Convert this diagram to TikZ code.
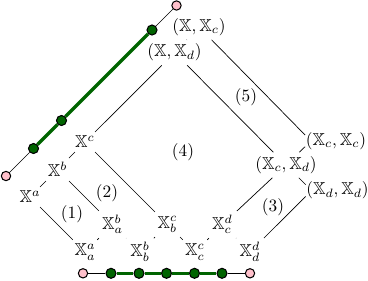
\documentclass[tikz,border=0pt]{standalone}
\usepackage{amssymb}
\definecolor{dgreen}{RGB}{0,100,0}
\definecolor{pinkc}{RGB}{255,192,203}
\begin{document}
\begin{tikzpicture}[x=0.578pt,y=-0.578pt,
  lab/.style={inner sep=2.2pt},
  rlab/.style={inner ysep=2pt,inner xsep=3.2pt},
  num/.style={inner sep=1pt},
  edge/.style={line width=0.4pt},
  gdot/.style={circle,draw=black,fill=dgreen,line width=0.6pt,minimum size=5.8pt,inner sep=0pt},
  pdot/.style={circle,draw=black,fill=pinkc,line width=0.6pt,minimum size=5.4pt,inner sep=0pt},
  gline/.style={draw=dgreen,line width=2pt}]
\useasboundingbox (0,0) rectangle (368,280);
% lattice nodes
\node[lab] (xaa) at (85,252) {$\mathbb{X}_a^a$};
\node[lab] (xbb) at (140,252) {$\mathbb{X}_b^b$};
\node[lab] (xcc) at (195,252) {$\mathbb{X}_c^c$};
\node[lab] (xdd) at (250,252) {$\mathbb{X}_d^d$};
\node[lab] (xab) at (112.5,224.5) {$\mathbb{X}_a^b$};
\node[lab] (xbc) at (167.5,224.5) {$\mathbb{X}_b^c$};
\node[lab] (xcd) at (222.5,224.5) {$\mathbb{X}_c^d$};
\node[lab] (xa) at (30,197) {$\mathbb{X}^a$};
\node[lab] (xb) at (57.5,169.5) {$\mathbb{X}^b$};
\node[lab] (xc) at (85,142) {$\mathbb{X}^c$};
\node[lab] (pxd) at (174.5,52.5) {$(\mathbb{X},\mathbb{X}_d)$};
\node[lab] (pxc) at (199,27) {$(\mathbb{X},\mathbb{X}_c)$};
\node[lab] (pcd) at (286,165) {$(\mathbb{X}_c,\mathbb{X}_d)$};
\node[rlab] (pcc) at (311,141) {\makebox[0pt][l]{\kern-3pt$(\mathbb{X}_c,\mathbb{X}_c)$}};
\node[rlab] (pdd) at (311.5,190.5) {\makebox[0pt][l]{\kern-3pt$(\mathbb{X}_d,\mathbb{X}_d)$}};
% region labels
\node[num] (n1) at (72,214) {(1)};
\node[num] (n2) at (107,193) {(2)};
\node[num] (n3) at (273,207) {(3)};
\node[num] (n4) at (183,152) {(4)};
\node[num] (n5) at (246,97) {(5)};
% edges
\draw[edge] (xa) -- (xb);
\draw[edge] (xb) -- (xc);
\draw[edge] (xc) -- (pxd);
\draw[edge] (pxd) -- (pxc);
\draw[edge] (pxc) -- (pcc);
\draw[edge] (pxd) -- (pcd);
\draw[edge] (pcd) -- (pcc);
\draw[edge] (pcd) -- (pdd);
\draw[edge] (pcd) -- (xcd);
\draw[edge] (pdd) -- (xdd);
\draw[edge] (xcd) -- (xdd);
\draw[edge] (xcd) -- (xcc);
\draw[edge] (xc) -- (xbc);
\draw[edge] (xbc) -- (xcc);
\draw[edge] (xbc) -- (xbb);
\draw[edge] (xb) -- (xab);
\draw[edge] (xab) -- (xbb);
\draw[edge] (xab) -- (xaa);
\draw[edge] (xa) -- (xaa);
% top-left diagonal
\node[pdot] (tp1) at (6,176) {};
\node[gdot] (tg1) at (33.5,148.5) {};
\node[gdot] (tg2) at (61.5,120.5) {};
\node[gdot] (tg3) at (152,30) {};
\node[pdot] (tp2) at (176.5,5.5) {};
\draw[edge] (tp1) -- (tg1);
\draw[gline] (tg1) -- (tg2);
\draw[gline] (tg2) -- (tg3);
\draw[edge] (tg3) -- (tp2);
% bottom row
\node[pdot] (bp1) at (83,273.3) {};
\node[gdot] (bg1) at (111,273.3) {};
\node[gdot] (bg2) at (139,273.3) {};
\node[gdot] (bg3) at (166.5,273.3) {};
\node[gdot] (bg4) at (194.5,273.3) {};
\node[gdot] (bg5) at (222,273.3) {};
\node[pdot] (bp2) at (250,273.3) {};
\draw[edge] (bp1) -- (bg1);
\draw[gline] (bg1) -- (bg2);
\draw[gline] (bg2) -- (bg3);
\draw[gline] (bg3) -- (bg4);
\draw[gline] (bg4) -- (bg5);
\draw[edge] (bg5) -- (bp2);
\end{tikzpicture}
\end{document}
